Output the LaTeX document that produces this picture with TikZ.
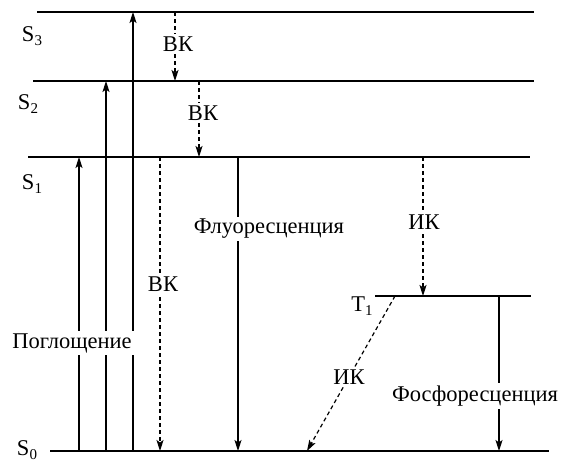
\documentclass[tikz,border=0pt]{standalone}
\usepackage{fontspec}
\setmainfont{Liberation Serif}
\usetikzlibrary{arrows.meta}
\pgfdeclarelayer{lines}
\pgfsetlayers{lines,main}
\newcommand{\lev}[2]{#1\raisebox{-4.5pt}{\fontsize{15}{15}\selectfont #2}}
\tikzset{
  level/.style={line width=1.2pt},
  trans/.style={line width=1.2pt,-{Stealth[length=11pt,width=7pt,inset=2.5pt]}},
  nonrad/.style={trans,dash pattern=on 4pt off 3pt},
  lbl/.style={fill=white,inner sep=2.5pt,font=\fontsize{22.5}{24}\selectfont},
  levlbl/.style={inner sep=0pt,font=\fontsize{22.5}{24}\selectfont},
}
\begin{document}
\begin{tikzpicture}[x=1pt,y=-1pt]
  \useasboundingbox (0,0) rectangle (561,463);

  % energy levels
  \coordinate (S3l) at (37,12);  \coordinate (S3r) at (534,12);
  \coordinate (S2l) at (33,81);  \coordinate (S2r) at (534,81);
  \coordinate (S1l) at (28,157); \coordinate (S1r) at (530,157);
  \coordinate (T1l) at (375,296);\coordinate (T1r) at (531,296);
  \coordinate (S0l) at (50,451); \coordinate (S0r) at (549,451);

  % transition end points
  \coordinate (a1b) at (79,451);  \coordinate (a1t) at (79,157);
  \coordinate (a2b) at (106,451); \coordinate (a2t) at (106,81);
  \coordinate (a3b) at (133,451); \coordinate (a3t) at (133,12);
  \coordinate (v1t) at (175,12);  \coordinate (v1b) at (175,81);
  \coordinate (v2t) at (199,81);  \coordinate (v2b) at (199,157);
  \coordinate (v3t) at (160,157); \coordinate (v3b) at (160,451);
  \coordinate (flt) at (238,157); \coordinate (flb) at (238,451);
  \coordinate (ikt) at (423,157); \coordinate (ikb) at (423,296);
  \coordinate (dgt) at (395,296); \coordinate (dgb) at (307,451);
  \coordinate (pht) at (499,296); \coordinate (phb) at (499,451);

  % level names
  \node[levlbl] (nS3) at (32,36)  {\lev{S}{3}};
  \node[levlbl] (nS2) at (28,104) {\lev{S}{2}};
  \node[levlbl] (nS1) at (32,184) {\lev{S}{1}};
  \node[levlbl] (nT1) at (362,306){\lev{T}{1}};
  \node[levlbl] (nS0) at (27,450) {\lev{S}{0}};

  % transition labels
  \node[lbl] (pogl) at (72,343) {Поглощение};
  \node[lbl] (vk1) at (178,44)  {ВК};
  \node[lbl] (vk2) at (203,113) {ВК};
  \node[lbl] (vk3) at (163,284) {ВК};
  \node[lbl] (flu) at (269,229) {Флуоресценция};
  \node[lbl] (ik1) at (424,222) {ИК};
  \node[lbl] (ik2) at (349,377) {ИК};
  \node[lbl] (pho) at (475,396) {Фосфоресценция};

  \begin{pgfonlayer}{lines}
    \draw[level] (S3l) -- (S3r);
    \draw[level] (S2l) -- (S2r);
    \draw[level] (S1l) -- (S1r);
    \draw[level] (T1l) -- (T1r);
    \draw[level] (S0l) -- (S0r);

    \draw[trans]  (a1b) -- (a1t);
    \draw[trans]  (a2b) -- (a2t);
    \draw[trans]  (a3b) -- (a3t);
    \draw[nonrad] (v1t) -- (v1b);
    \draw[nonrad] (v2t) -- (v2b);
    \draw[nonrad] (v3t) -- (v3b);
    \draw[trans]  (flt) -- (flb);
    \draw[nonrad] (ikt) -- (ikb);
    \draw[nonrad] (dgt) -- (dgb);
    \draw[trans]  (pht) -- (phb);
  \end{pgfonlayer}
\end{tikzpicture}
\end{document}
